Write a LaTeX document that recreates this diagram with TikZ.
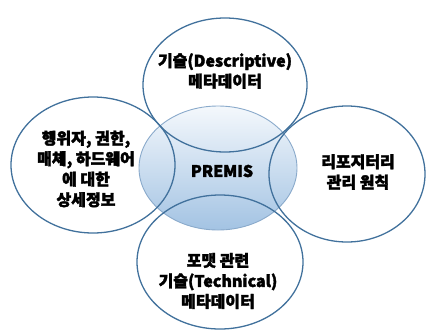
\documentclass[tikz,border=0pt]{standalone}
\usepackage{fontspec}
\newfontfamily\kofont{Noto Sans CJK KR}[FakeBold=2.2]
\definecolor{ringline}{HTML}{41719C}
\definecolor{coreline}{HTML}{8AAACB}
\definecolor{coretop}{HTML}{F4F8FC}
\definecolor{corebot}{HTML}{A3C3E3}
\tikzset{
  ring/.style={draw=ringline, line width=1.3pt, fill=none},
  label/.style={font=\kofont\bfseries\fontsize{16}{20.5}\selectfont, align=center, text=black},
}
\begin{document}
\begin{tikzpicture}[x=1pt,y=-1pt]
\useasboundingbox (0,0) rectangle (426,330);
% central shaded ellipse
\shade[top color=coretop, bottom color=corebot, draw=coreline, line width=0.9pt]
  (218,168) ellipse [x radius=79, y radius=62];
% four outer rings
\draw[ring] (225,85) ellipse [x radius=82, y radius=67];
\draw[ring] (220,262) ellipse [x radius=83, y radius=67];
\draw[ring] (93,165) ellipse [x radius=82, y radius=68];
\draw[ring] (347,174) ellipse [x radius=78, y radius=68];
% texts
\node[label] (core) at (222,171) {PREMIS};
\node[label] (desc) at (225,71) {기술(Descriptive)\\메타데이터};
\node[label] (agent) at (86,169) {행위자, 권한,\\매체, 하드웨어\\에 대한\\상세정보};
\node[label] (repo) at (358,172) {리포지터리\\관리 원칙};
\node[label] (tech) at (218,281) {포맷 관련\\기술(Technical)\\메타데이터};
\end{tikzpicture}
\end{document}
